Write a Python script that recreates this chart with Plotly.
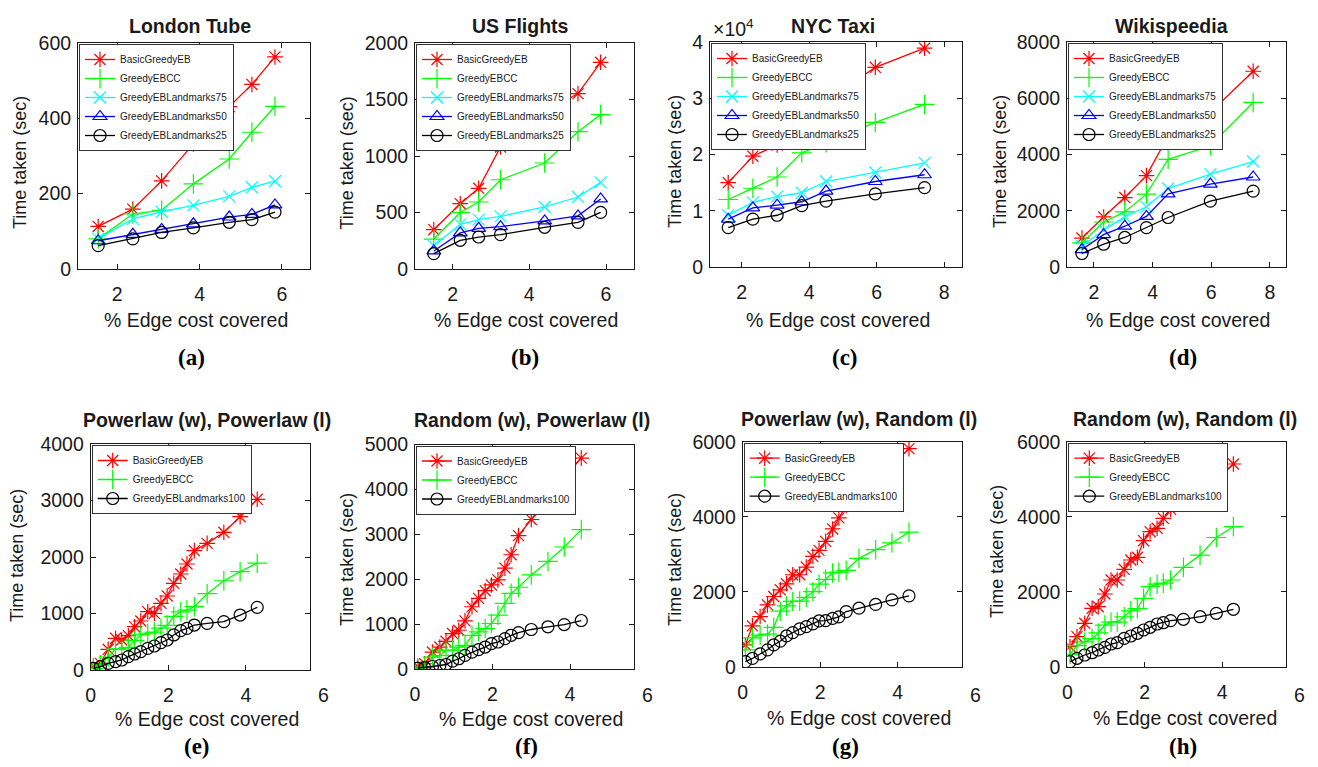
import plotly.graph_objects as go

# ---------------- data ----------------
TOP_SERIES = ["BasicGreedyEB", "GreedyEBCC", "GreedyEBLandmarks75",
              "GreedyEBLandmarks50", "GreedyEBLandmarks25"]
BOTTOM_SERIES = ["BasicGreedyEB", "GreedyEBCC", "GreedyEBLandmarks100"]

TITLES = ["London Tube", "US Flights", "NYC Taxi", "Wikispeedia",
          "Powerlaw (w), Powerlaw (l)", "Random (w), Powerlaw (l)",
          "Powerlaw (w), Random (l)", "Random (w), Random (l)"]
TAGS = ["(a)", "(b)", "(c)", "(d)", "(e)", "(f)", "(g)", "(h)"]
X_LABEL = "% Edge cost covered"
Y_LABEL = "Time taken (sec)"

# (a) London Tube
X_LONDON = [1.54, 2.38, 3.08, 3.85, 4.72, 5.27, 5.83]
LONDON = {
    "BasicGreedyEB":       [113, 159, 234, 332, 431, 490, 563],
    "GreedyEBCC":          [80, 146, 156, 226, 292, 363, 432],
    "GreedyEBLandmarks75": [80, 133, 152, 169, 193, 217, 233],
    "GreedyEBLandmarks50": [75, 92, 105, 120, 138, 145, 170],
    "GreedyEBLandmarks25": [62, 80, 97, 109, 124, 131, 151],
}
# (b) US Flights
X_FLIGHTS = [1.51, 2.2, 2.68, 3.25, 4.40, 5.27, 5.86]
FLIGHTS = {
    "BasicGreedyEB":       [348, 578, 714, 1080, 1390, 1552, 1829],
    "GreedyEBCC":          [265, 500, 593, 790, 938, 1215, 1366],
    "GreedyEBLandmarks75": [206, 395, 437, 466, 549, 637, 767],
    "GreedyEBLandmarks50": [160, 320, 360, 375, 425, 470, 620],
    "GreedyEBLandmarks25": [136, 254, 283, 304, 369, 413, 501],
}
# (c) NYC Taxi
X_TAXI = [1.6, 2.33, 3.05, 3.78, 4.5, 5.96, 7.42]
TAXI = {
    "BasicGreedyEB":       [15000, 19700, 21700, 25700, 29500, 35500, 38900],
    "GreedyEBCC":          [12000, 14000, 16000, 20300, 22100, 25700, 28900],
    "GreedyEBLandmarks75": [9200, 11500, 12500, 13200, 15200, 16800, 18500],
    "GreedyEBLandmarks50": [8500, 10500, 11000, 11600, 13500, 15200, 16400],
    "GreedyEBLandmarks25": [7000, 8500, 9200, 10900, 11700, 13000, 14100],
}
# (d) Wikispeedia
X_WIKI = [1.59, 2.33, 3.05, 3.79, 4.53, 5.97, 7.43]
WIKI = {
    "BasicGreedyEB":       [1030, 1780, 2470, 3250, 4660, 5490, 6960],
    "GreedyEBCC":          [860, 1600, 1960, 2590, 3830, 4310, 5850],
    "GreedyEBLandmarks75": [750, 1310, 1780, 2140, 2790, 3300, 3750],
    "GreedyEBLandmarks50": [620, 1150, 1450, 1800, 2600, 2950, 3200],
    "GreedyEBLandmarks25": [480, 810, 1050, 1400, 1760, 2340, 2700],
}
# synthetic graphs
X_SYN = [0.07, 0.25, 0.45, 0.64, 0.8, 0.97, 1.13, 1.29, 1.47, 1.64,
         1.81, 1.97, 2.14, 2.32, 2.48, 2.67, 3.0, 3.43, 3.85, 4.29]
PW_PL = {
    "BasicGreedyEB": [71, 118, 366, 561, 531, 607, 766, 867, 1032, 1003,
                      1180, 1310, 1534, 1699, 1876, 2112, 2242, 2437, 2713, 3021],
    "GreedyEBCC": [30, 90, 230, 370, 370, 400, 520, 620, 650, 670,
                   740, 790, 950, 1030, 1060, 1120, 1350, 1580, 1740, 1890],
    "GreedyEBLandmarks100": [30, 59, 118, 147, 177, 236, 283, 324, 383, 425,
                             484, 531, 620, 696, 737, 796, 826, 855, 973, 1109],
}
RW_PL = {
    "BasicGreedyEB": [60, 117, 377, 489, 617, 789, 863, 1072, 1386, 1574,
                      1744, 1872, 1984, 2247, 2545, 2971, 3330, 3816, 4265, 4697],
    "GreedyEBCC": [10, 40, 265, 303, 415, 415, 489, 527, 751, 825,
                   901, 1013, 1200, 1462, 1686, 1821, 2096, 2395, 2717, 3105],
    "GreedyEBLandmarks100": [20, 30, 56, 78, 100, 175, 228, 303, 377, 430,
                             489, 565, 601, 677, 751, 810, 880, 940, 990, 1080],
}
PW_RL = {
    "BasicGreedyEB": [580, 1088, 1337, 1650, 1872, 2051, 2211, 2452, 2452, 2658,
                      2941, 3102, 3342, 3674, 3968, 4297, 4813, 5100, 5366, 5815],
    "GreedyEBCC": [450, 770, 840, 870, 1050, 1480, 1620, 1740, 1750, 1850,
                   2000, 2200, 2330, 2500, 2520, 2570, 2890, 3120, 3300, 3590],
    "GreedyEBLandmarks100": [134, 220, 340, 450, 580, 680, 820, 910, 1010, 1070,
                             1140, 1220, 1230, 1290, 1330, 1470, 1560, 1660, 1783, 1890],
}
RW_RL = {
    "BasicGreedyEB": [533, 800, 1157, 1557, 1600, 1939, 2312, 2312, 2597, 2845,
                      2917, 3360, 3600, 3691, 3957, 4197, 4491, 4845, 4997, 5405],
    "GreedyEBCC": [330, 560, 660, 750, 900, 1110, 1190, 1190, 1330, 1490,
                   1550, 1824, 2133, 2200, 2230, 2312, 2650, 2975, 3445, 3733],
    "GreedyEBLandmarks100": [133, 224, 312, 373, 445, 517, 605, 640, 757, 819,
                             891, 979, 1051, 1139, 1173, 1227, 1264, 1333, 1424, 1531],
}

PANEL_DATA = [
    (X_LONDON, LONDON, TOP_SERIES), (X_FLIGHTS, FLIGHTS, TOP_SERIES),
    (X_TAXI, TAXI, TOP_SERIES), (X_WIKI, WIKI, TOP_SERIES),
    (X_SYN, PW_PL, BOTTOM_SERIES), (X_SYN, RW_PL, BOTTOM_SERIES),
    (X_SYN, PW_RL, BOTTOM_SERIES), (X_SYN, RW_RL, BOTTOM_SERIES),
]
X_RANGES = [[1.05, 6.68], [1.02, 6.73], [1.06, 8.53], [1.08, 8.55],
            [0, 5.65], [0, 5.65], [0, 5.65], [0, 5.65]]
X_TICKS = [[2, 4, 6], [2, 4, 6], [2, 4, 6, 8], [2, 4, 6, 8],
           [0, 2, 4], [0, 2, 4], [0, 2, 4], [0, 2, 4]]
Y_RANGES = [[0, 600], [0, 2000], [0, 40000], [0, 8000],
            [0, 4000], [0, 5000], [0, 6000], [0, 6000]]
Y_DTICK = [200, 500, 10000, 2000, 1000, 1000, 2000, 2000]

# ---------------- styling / layout ----------------
W, H = 1318, 767          # browser window
OFF = 8                   # default page (body) margin around the plot div
FIG_W, FIG_H = W - 2 * OFF, H - 2 * OFF
STYLE = {
    "BasicGreedyEB": dict(color="#ff0000", symbol="asterisk-open", size=13),
    "GreedyEBCC": dict(color="#00ff00", symbol="cross-thin-open", size=14),
    "GreedyEBLandmarks75": dict(color="#00ffff", symbol="x-thin-open", size=12),
    "GreedyEBLandmarks50": dict(color="#0000ff", symbol="triangle-up-open", size=12),
    "GreedyEBLandmarks25": dict(color="#000000", symbol="circle-open", size=12),
    "GreedyEBLandmarks100": dict(color="#000000", symbol="circle-open", size=12),
}
# plot boxes in window pixels: left, right, top, bottom
BOXES = [(78, 310, 43, 269), (415, 634, 43, 269), (710, 962, 42, 267),
         (1067, 1286, 42, 267), (90.7, 310, 444, 670), (415, 634, 444.5, 669),
         (742.7, 961.7, 441.7, 666.7), (1067.3, 1286, 441.7, 666.7)]
TITLE_POS = [(190, 26), (520.5, 26), (833, 26), (1171, 26),
             (207, 420), (531.5, 420), (859, 418.5), (1185, 418.5)]
XLAB_POS = [(196, 320), (526, 320), (837.5, 320), (1178, 320),
            (207, 719), (531, 719), (859, 718), (1185, 718)]
YLAB_POS = [(20, 163), (346.5, 163), (675, 162), (1000, 162),
            (17, 556), (347, 560), (675, 560), (997, 552)]
TAG_POS = [(191, 357), (525, 357), (845, 357), (1183, 357),
           (197, 746), (526, 746), (845, 746), (1183, 746)]

SANS = "Liberation Sans, Arial, Helvetica, sans-serif"
SERIF = "Liberation Serif, Times New Roman, serif"
INK = "#1a1a1a"

fig = go.Figure()
annotations = []

def px(x, y):
    """window pixel -> paper fraction"""
    return (x - OFF) / FIG_W, 1 - (y - OFF) / FIG_H

for i, (xs, data, names) in enumerate(PANEL_DATA):
    k = i + 1
    xa = "x" if k == 1 else f"x{k}"
    ya = "y" if k == 1 else f"y{k}"
    lg = "legend" if k == 1 else f"legend{k}"
    for name in names:
        st = STYLE[name]
        fig.add_trace(go.Scatter(
            x=xs, y=data[name], name=name, mode="lines+markers",
            xaxis=xa, yaxis=ya, legend=lg,
            line=dict(color=st["color"], width=1.3),
            marker=dict(symbol=st["symbol"], size=st["size"],
                        color=st["color"], line=dict(color=st["color"], width=1.2)),
            cliponaxis=True,
        ))
    l, r, t, b = BOXES[i]
    x0f, y1f = px(l, t)
    x1f, y0f = px(r, b)
    axis_common = dict(showline=True, linecolor=INK, linewidth=1, mirror="ticks",
                       ticks="inside", ticklen=5, tickcolor=INK, showgrid=False,
                       zeroline=False, automargin=False,
                       tickfont=dict(family=SANS, size=19.5, color=INK))
    xkey = "xaxis" if k == 1 else f"xaxis{k}"
    ykey = "yaxis" if k == 1 else f"yaxis{k}"
    xdict = dict(domain=[x0f, x1f], range=X_RANGES[i], anchor=ya,
                 tickvals=X_TICKS[i], ticklabelstandoff=8, **axis_common)
    ydict = dict(domain=[y0f, y1f], range=Y_RANGES[i], anchor=xa,
                 dtick=Y_DTICK[i], tick0=0, ticklabelstandoff=2, **axis_common)
    if i == 2:
        ydict["tickvals"] = [0, 10000, 20000, 30000, 40000]
        ydict["ticktext"] = ["0", "1", "2", "3", "4"]
    fig.update_layout(**{xkey: xdict, ykey: ydict})
    lx, ly = px(l + 1, t + 1)
    fig.update_layout(**{lg: dict(
        x=lx, y=ly, xanchor="left", yanchor="top", xref="paper", yref="paper",
        bgcolor="white", bordercolor="#333333", borderwidth=1,
        font=dict(family=SANS, size=10, color=INK), itemwidth=30,
        tracegroupgap=0)})

    tx, ty = px(*TITLE_POS[i])
    annotations.append(dict(text=TITLES[i], x=tx, y=ty, xref="paper", yref="paper",
                            showarrow=False, xanchor="center", yanchor="middle",
                            font=dict(family=SANS, size=19.5, color=INK, weight="bold")))
    xx, xy = px(*XLAB_POS[i])
    annotations.append(dict(text=X_LABEL, x=xx, y=xy, xref="paper", yref="paper",
                            showarrow=False, xanchor="center", yanchor="middle",
                            font=dict(family=SANS, size=19.5, color=INK)))
    yx, yy = px(*YLAB_POS[i])
    annotations.append(dict(text=Y_LABEL, x=yx, y=yy, xref="paper", yref="paper",
                            showarrow=False, xanchor="center", yanchor="middle",
                            textangle=-90,
                            font=dict(family=SANS, size=18, color=INK)))
    gx, gy = px(*TAG_POS[i])
    annotations.append(dict(text=TAGS[i], x=gx, y=gy, xref="paper", yref="paper",
                            showarrow=False, xanchor="center", yanchor="middle",
                            font=dict(family=SERIF, size=23, color="black", weight="bold")))
    if i >= 4:
        # MATLAB printed the "6" tick label just past the right edge of the box
        xr0, xr1 = X_RANGES[i]
        six_px = l + (6 - xr0) / (xr1 - xr0) * (r - l)
        sx, sy = px(six_px, 694.5)
        annotations.append(dict(text="6", x=sx, y=sy, xref="paper", yref="paper",
                                showarrow=False, xanchor="center", yanchor="middle",
                                font=dict(family=SANS, size=19.5, color=INK)))

ex, ey = px(733, 28)
annotations.append(dict(text="\u00d710<sup>4</sup>", x=ex, y=ey, xref="paper", yref="paper",
                        showarrow=False, xanchor="center", yanchor="middle",
                        font=dict(family=SANS, size=19.5, color=INK)))

fig.update_layout(width=FIG_W, height=FIG_H,
                  margin=dict(l=0, r=0, t=0, b=0, autoexpand=False),
                  paper_bgcolor="white", plot_bgcolor="white",
                  annotations=annotations, showlegend=True)
fig.write_html("out.html")
